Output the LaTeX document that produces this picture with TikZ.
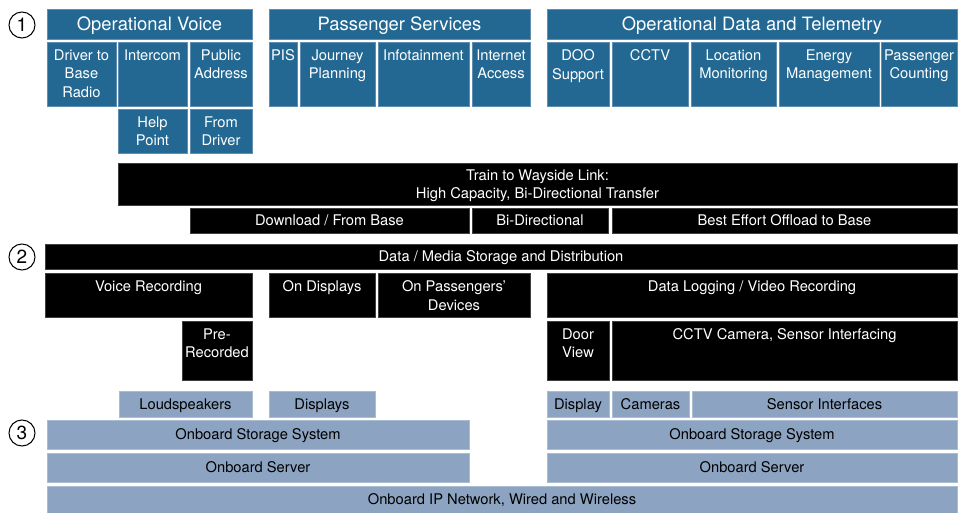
\documentclass[tikz,border=0pt]{standalone}
\usepackage{fontspec}
\setmainfont{TeX Gyre Heros}
\definecolor{svc}{RGB}{34,104,146}
\definecolor{svcedge}{RGB}{96,142,178}
\definecolor{hw}{RGB}{140,163,193}
\definecolor{hwedge}{RGB}{170,188,210}
\newcommand\bodyfont{\fontsize{14.7}{18.5}\selectfont}
\newcommand\headfont{\fontsize{18.4}{22}\selectfont}
\usetikzlibrary{positioning}
\tikzset{
  blk/.style={anchor=north west, inner sep=0pt, outer sep=0pt, align=center,
              font=\bodyfont, text depth=0pt, minimum width=#1},
  tall/.style={minimum height=#1},
  svcbox/.style={blk=#1, fill=svc, draw=svcedge, line width=0.6pt, text=white},
  head/.style={svcbox=#1, font=\headfont, minimum height=30},
  linkbox/.style={blk=#1, fill=black, draw=black!75, line width=0.6pt, text=white},
  hwbox/.style={blk=#1, fill=hw, draw=hwedge, line width=0.6pt, text=black},
  top/.style={label={[anchor=north, yshift=-7.5pt, inner sep=0pt, align=center,
              font=\bodyfont, text=white]north:#1}},
  num/.style={circle, draw, line width=1pt, minimum size=26, inner sep=0pt,
              font=\fontsize{19}{19}\selectfont},
}
\begin{document}
\begin{tikzpicture}[x=1pt,y=-1pt]
\useasboundingbox (0,0) rectangle (958,513);
\foreach \n/\y in {1/25,2/257,3/433} \node[num] (num\n) at (22,\y) {\n};
% layer 1
\node[head=205] (ov) at (47,9) {Operational Voice};
\node[svcbox=69,tall=64,top={Driver to\\Base\\Radio}] (drv) at (47,42) {};
\node[svcbox=69,tall=64,top=Intercom] (icom) at (118,42) {};
\node[svcbox=62,tall=64,top={Public\\Address}] (pa) at (190,42) {};
\node[svcbox=69,tall=44,top={Help\\Point}] (help) at (118,109) {};
\node[svcbox=62,tall=44,top={From\\Driver}] (frdrv) at (190,109) {};
\node[head=261] (ps) at (269,9) {Passenger Services};
\node[svcbox=28,tall=64,top=PIS] (pis) at (269,42) {};
\node[svcbox=75,tall=64,top={Journey\\Planning}] (jp) at (300,42) {};
\node[svcbox=91,tall=64,top=Infotainment] (info) at (378,42) {};
\node[svcbox=58,tall=64,top={Internet\\Access}] (inet) at (472,42) {};
\node[head=410] (odt) at (547,9) {Operational Data and Telemetry};
\node[svcbox=62,tall=64,top={DOO\\Support}] (doo) at (547,42) {};
\node[svcbox=76,tall=64,top=CCTV] (cctv) at (612,42) {};
\node[svcbox=85,tall=64,top={Location\\Monitoring}] (loc) at (691,42) {};
\node[svcbox=100,tall=64,top={Energy\\Management}] (nrg) at (779,42) {};
\node[svcbox=76,tall=64,top={Passenger\\Counting}] (pc) at (881,42) {};
% train to wayside link
\node[linkbox=839,tall=42] (twl) at (118,163) {Train to Wayside Link:\\High Capacity, Bi-Directional Transfer};
\node[linkbox=279,tall=25] (dl) at (190,208) {Download / From Base};
\node[linkbox=136,tall=25] (bid) at (472,208) {Bi-Directional};
\node[linkbox=345,tall=25] (beo) at (612,208) {Best Effort Offload to Base};
% layer 2
\node[linkbox=912,tall=25] (dms) at (45,244) {Data / Media Storage and Distribution};
\node[linkbox=207,tall=44,top=Voice Recording] (vr) at (45,273) {};
\node[linkbox=106,tall=44,top=On Displays] (ond) at (269,273) {};
\node[linkbox=152,tall=44,top={On Passengers'\\Devices}] (opd) at (378,273) {};
\node[linkbox=410,tall=44,top=Data Logging / Video Recording] (dlv) at (547,273) {};
\node[linkbox=70,tall=59,top={Pre-\\Recorded}] (pre) at (182,321) {};
\node[linkbox=62,tall=59,top={Door\\View}] (door) at (547,321) {};
\node[linkbox=345,tall=59,top={CCTV Camera, Sensor Interfacing}] (cci) at (612,321) {};
% layer 3
\node[hwbox=133,tall=26] (lsp) at (119,391) {Loudspeakers};
\node[hwbox=106,tall=26] (dsp) at (269,391) {Displays};
\node[hwbox=62,tall=26] (dspl) at (547,391) {Display};
\node[hwbox=77,tall=26] (cam) at (612,391) {Cameras};
\node[hwbox=265,tall=26] (sens) at (692,391) {Sensor Interfaces};
\node[hwbox=422,tall=29] (ossl) at (47,420) {Onboard Storage System};
\node[hwbox=410,tall=29] (ossr) at (547,420) {Onboard Storage System};
\node[hwbox=422,tall=29] (osvl) at (47,453) {Onboard Server};
\node[hwbox=410,tall=29] (osvr) at (547,453) {Onboard Server};
\node[hwbox=910,tall=27] (ipn) at (47,486) {Onboard IP Network, Wired and Wireless};
\end{tikzpicture}
\end{document}
